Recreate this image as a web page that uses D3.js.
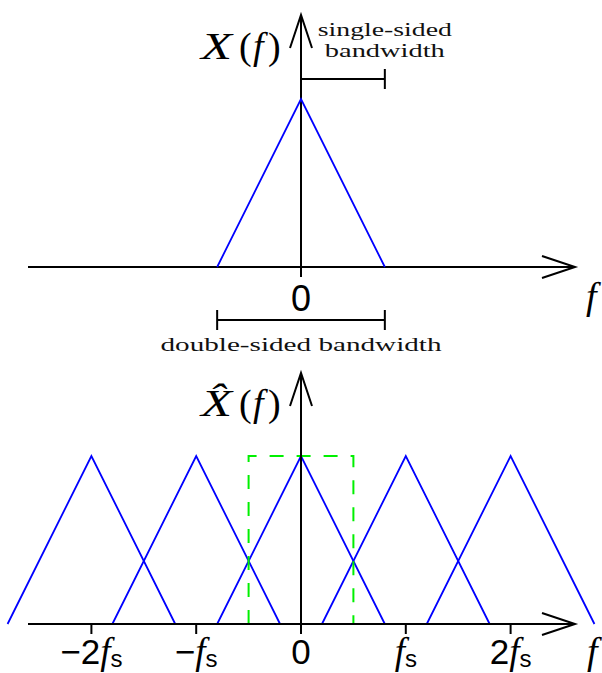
<!DOCTYPE html>
<html>
<head>
<meta charset="utf-8">
<script src="https://cdn.jsdelivr.net/npm/d3@7"></script>
<style>
  html, body { margin: 0; padding: 0; background: #ffffff; }
  #container { width: 602px; height: 673px; }
  .axis-line { stroke: #000; stroke-width: 2; fill: none; }
  .spectrum { stroke: #0000ff; stroke-width: 1.8; fill: none; }
  .passband { stroke: #00f000; stroke-width: 2; fill: none; stroke-dasharray: 14,13; }
  .num { font-family: "Liberation Sans", Arial, sans-serif; }
  .var { font-family: "Liberation Serif", "Times New Roman", serif; font-style: italic; }
  .paren { font-family: "Liberation Serif", "Times New Roman", serif; font-style: normal; }
  .note { font-family: "Liberation Serif", "Times New Roman", serif; fill: #111; }
</style>
</head>
<body>
<div id="container"></div>
<script>
// spectrum shape of the baseband signal (f in units of fs, amplitude normalised)
var spectrumF = [-0.8, 0, 0.8];
var spectrumA = [0, 1, 0];
var bandwidth = 0.8; // single-sided
// spectral replicas after sampling, centred at k*fs
var replicaCenters = [-2, -1, 0, 1, 2];
// ideal reconstruction filter (Nyquist band)
var passbandF = [-0.5, 0.5];
var passbandGain = 1;
// tick positions / labels of the sampled spectrum
var tickValues = [-2, -1, 0, 1, 2];
var tickPrefix = ["\u22122", "\u2212", "0", "", "2"];
var tickHasFs = [true, true, false, true, true];

var target = d3.select("#container");
var svg = target.append("svg").attr("width", 602).attr("height", 673);

var pxPerFs = 104.8;
var x0 = 301;
var x = d3.scaleLinear().domain([-3, 3]).range([x0 - 3 * pxPerFs, x0 + 3 * pxPerFs]);
var yTop = d3.scaleLinear().domain([0, 1]).range([267, 99]);
var yBot = d3.scaleLinear().domain([0, 1]).range([624, 456]);

var axisLeft = 28, axisRight = 575;
var arrowLen = 33, arrowHalf = 11, tickLen = 10;

var line = function (ys) {
  return d3.line()
    .x(function (d) { return x(d[0]); })
    .y(function (d) { return ys(d[1]); });
};

function drawAxes(g, ys, topTip) {
  var yb = ys(0);
  g.append("path").attr("class", "axis-line")
    .attr("d", "M" + axisLeft + "," + yb + " L" + axisRight + "," + yb);
  g.append("path").attr("class", "axis-line")
    .attr("d", "M" + (axisRight - arrowLen) + "," + (yb - arrowHalf) + " L" + axisRight + "," + yb +
      " L" + (axisRight - arrowLen) + "," + (yb + arrowHalf));
  g.append("path").attr("class", "axis-line")
    .attr("d", "M" + x(0) + "," + (yb + tickLen) + " L" + x(0) + "," + topTip);
  g.append("path").attr("class", "axis-line")
    .attr("d", "M" + (x(0) - arrowHalf) + "," + (topTip + arrowLen) + " L" + x(0) + "," + topTip +
      " L" + (x(0) + arrowHalf) + "," + (topTip + arrowLen));
}

function fLabel(g, px, py) {
  g.append("text").attr("class", "var")
    .attr("x", px).attr("y", py)
    .style("font-size", "38px")
    .text("f");
}

// X(f) style label, glyphs placed like the TeX original
function funcLabel(g, px, py, name) {
  var t = g.append("text").attr("x", px).attr("y", py)
    .style("font-size", "38px");
  t.append("tspan").attr("class", "var").attr("x", px + 3)
    .attr("textLength", 31).attr("lengthAdjust", "spacingAndGlyphs").text(name);
  t.append("tspan").attr("class", "paren").attr("x", px + 41).text("(");
  t.append("tspan").attr("class", "var").attr("x", px + 55).text("f");
  t.append("tspan").attr("class", "paren").attr("x", px + 70).text(")");
}

// ---------- top panel: X(f)
var topG = svg.append("g").attr("class", "top-panel");
drawAxes(topG, yTop, 15);

topG.append("path").attr("class", "spectrum")
  .attr("d", line(yTop)(d3.zip(spectrumF, spectrumA)));

topG.append("text").attr("class", "num")
  .attr("x", x(0)).attr("y", 311)
  .style("font-size", "36px").style("text-anchor", "middle")
  .text("0");
fLabel(topG, 586, 309);
funcLabel(topG, 198, 59, "X");

// single-sided bracket
var yS = 79;
topG.append("path").attr("class", "axis-line")
  .attr("d", "M" + x(0) + "," + yS + " L" + x(bandwidth) + "," + yS +
    " M" + x(bandwidth) + "," + (yS - 10) + " L" + x(bandwidth) + "," + (yS + 10));
topG.append("text").attr("class", "note")
  .attr("x", x(bandwidth)).attr("y", 36)
  .attr("textLength", 134).attr("lengthAdjust", "spacingAndGlyphs")
  .style("font-size", "19px").style("text-anchor", "middle")
  .text("single-sided");
topG.append("text").attr("class", "note")
  .attr("x", x(bandwidth)).attr("y", 57)
  .attr("textLength", 120).attr("lengthAdjust", "spacingAndGlyphs")
  .style("font-size", "19px").style("text-anchor", "middle")
  .text("bandwidth");

// double-sided bracket
var yD = 320;
topG.append("path").attr("class", "axis-line")
  .attr("d", "M" + x(-bandwidth) + "," + yD + " L" + x(bandwidth) + "," + yD +
    " M" + x(-bandwidth) + "," + (yD - 10) + " L" + x(-bandwidth) + "," + (yD + 10) +
    " M" + x(bandwidth) + "," + (yD - 10) + " L" + x(bandwidth) + "," + (yD + 10));
topG.append("text").attr("class", "note")
  .attr("x", x(0)).attr("y", 351)
  .attr("textLength", 281).attr("lengthAdjust", "spacingAndGlyphs")
  .style("font-size", "19px").style("text-anchor", "middle")
  .text("double-sided bandwidth");

// ---------- bottom panel: sampled spectrum
var botG = svg.append("g").attr("class", "bottom-panel");

// replicas
botG.selectAll("path.spectrum")
  .data(replicaCenters)
  .enter()
  .append("path")
  .attr("class", "spectrum")
  .attr("d", function (k) {
    var pts = spectrumF.map(function (f, i) { return [f + k, spectrumA[i]]; });
    return line(yBot)(pts);
  });

// reconstruction filter
botG.append("path").attr("class", "passband")
  .attr("d", line(yBot)([
    [passbandF[0], 0], [passbandF[0], passbandGain],
    [passbandF[1], passbandGain], [passbandF[1], 0]
  ]));

drawAxes(botG, yBot, 373);

botG.selectAll("path.tick")
  .data(tickValues)
  .enter()
  .append("path")
  .attr("class", "axis-line tick")
  .attr("d", function (d) {
    return "M" + x(d) + "," + yBot(0) + " L" + x(d) + "," + (yBot(0) + tickLen);
  });

botG.selectAll("text.tick-label")
  .data(tickValues)
  .enter()
  .append("text")
  .attr("class", "tick-label")
  .attr("x", function (d) { return x(d); })
  .attr("y", 664)
  .style("text-anchor", "middle")
  .each(function (d, i) {
    var t = d3.select(this);
    if (tickPrefix[i]) {
      t.append("tspan").attr("class", "num").style("font-size", "35px").text(tickPrefix[i]);
    }
    if (tickHasFs[i]) {
      t.append("tspan").attr("class", "var").style("font-size", "37px").text("f");
      t.append("tspan").attr("class", "num").style("font-size", "24px")
        .attr("dy", 3).text("s");
    }
  });

fLabel(botG, 587, 664);
funcLabel(botG, 198, 416, "X\u0302");
</script>
</body>
</html>
